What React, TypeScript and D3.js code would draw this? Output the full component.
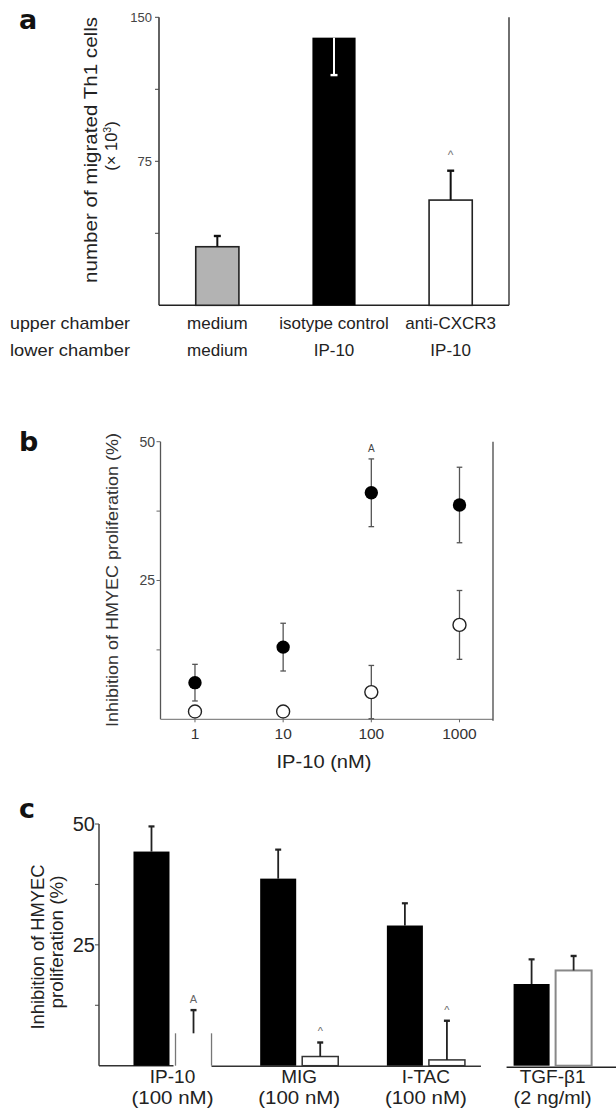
import React from 'react';
import * as d3 from 'd3';

const FONT = '"Liberation Sans", Arial, Helvetica, sans-serif';

// ---------- Panel a data ----------
const aUpper = ['medium', 'isotype control', 'anti-CXCR3'];
const aLower = ['medium', 'IP-10', 'IP-10'];
const aValues = [30.5, 139.4, 54.8];
const aErrors = [5.6, -19.5, 15.3];
const aFills = ['#b3b3b3', '#000000', '#ffffff'];
const aTicks = [37.5, 75, 112.5, 150];
const aTickLabels = ['', '75', '', '150'];
const aMarks = ['', '', '^'];

// ---------- Panel b data ----------
const bDoses = [1, 10, 100, 1000];
const bDoseLabels = ['1', '10', '100', '1000'];
const bFilled = [6.6, 13.0, 40.8, 38.6];
const bFilledErr = [3.3, 4.3, 6.1, 6.8];
const bOpen = [1.4, 1.4, 4.9, 17.0];
const bOpenErr = [0, 0, 4.8, 6.2];
const bMarks = ['', '', 'A', ''];
const bTicks = [12.5, 25, 37.5, 50];
const bTickLabels = ['', '25', '', '50'];

// ---------- Panel c data ----------
const cGroups = ['IP-10', 'MIG', 'I-TAC', 'TGF-β1'];
const cSub = ['(100 nM)', '(100 nM)', '(100 nM)', '(2 ng/ml)'];
const cBlack = [44.3, 38.7, 29.0, 16.9];
const cBlackErr = [5.2, 6.0, 4.6, 5.1];
const cOpen = [6.7, 1.9, 1.2, 19.7];
const cOpenErr = [4.8, 2.9, 8.1, 3.0];
const cMarks = ['A', '^', '^', ''];
const cTicks = [12.5, 25, 37.5, 50];
const cTickLabels = ['', '25', '', '50'];

export default function App() {
  // ----- scales a -----
  const yA = d3.scaleLinear().domain([0, 150]).range([305.3, 17.3]);
  const xA = d3.scaleBand().domain(aUpper).range([159, 509]).paddingInner(0.63).paddingOuter(0.315);
  const bwA = xA.bandwidth();

  // ----- scales b -----
  const yB = d3.scaleLinear().domain([0, 50]).range([719.3, 441.7]);
  const xB = d3.scaleLog().domain([Math.pow(10, -0.391), Math.pow(10, 3.38)]).range([160.5, 493]);

  // ----- scales c -----
  const yC = d3.scaleLinear().domain([0, 50]).range([1065.7, 824]);
  const xC = d3.scaleBand().domain(cGroups).range([109.15, 615.95]).paddingInner(0.384).paddingOuter(0.192);
  const xCi = d3.scaleBand().domain(['black', 'open']).range([0, xC.bandwidth()]).paddingInner(0.143);
  const bwC = xCi.bandwidth();

  const capA = 3.5;
  const capB = 2.8;
  const capC = 3;

  return (
    <svg width={616} height={1113} style={{ position: 'absolute', left: 0, top: 0, background: '#fff' }} fontFamily={FONT}>
      <rect x={0} y={0} width={616} height={1113} fill="#fff" />

      {/* ================= Panel a ================= */}
      <text x={19} y={29} fontSize={27} fontWeight="bold" fontFamily='"DejaVu Sans", sans-serif' fill="#111">a</text>

      {/* y label */}
      <text transform={`translate(97,150) rotate(-90)`} textAnchor="middle" fontSize={17.5} fill="#222"
        textLength={266} lengthAdjust="spacingAndGlyphs">number of migrated Th1 cells</text>
      <text transform={`translate(117,146) rotate(-90)`} textAnchor="middle" fontSize={16.5} fill="#222">
        (× 10<tspan dy={-6} fontSize={10.5}>3</tspan><tspan dy={6}>)</tspan>
      </text>

      {/* axes */}
      <line x1={159} x2={159} y1={yA(150)} y2={yA(0)} stroke="#222" strokeWidth={1.4} />
      <line x1={159} x2={509} y1={yA(0)} y2={yA(0)} stroke="#222" strokeWidth={1.6} />
      <line x1={509} x2={509} y1={yA(150)} y2={yA(0)} stroke="#333" strokeWidth={1.4} />
      {aTicks.map((t, i) => (
        <g key={'at' + i}>
          <line x1={155} x2={159} y1={yA(t)} y2={yA(t)} stroke="#444" strokeWidth={1} />
          {aTickLabels[i] && (
            <text x={152} y={yA(t)} dy="0.35em" textAnchor="end" fontSize={13} fill="#444">{aTickLabels[i]}</text>
          )}
        </g>
      ))}

      {/* bars */}
      {aUpper.map((c, i) => {
        const x = xA(c)!;
        const cx = x + bwA / 2;
        const v = aValues[i];
        const e = aErrors[i];
        const errCol = e < 0 ? '#fff' : '#111';
        return (
          <g key={'ab' + i}>
            <rect x={x} y={yA(v)} width={bwA} height={yA(0) - yA(v)} fill={aFills[i]}
              stroke={i === 1 ? 'none' : '#222'} strokeWidth={1.6} />
            <line x1={cx} x2={cx} y1={yA(v)} y2={yA(v + e)} stroke={errCol} strokeWidth={2} />
            <line x1={cx - capA} x2={cx + capA} y1={yA(v + e)} y2={yA(v + e)} stroke={errCol} strokeWidth={2.4} />
            {aMarks[i] && (
              <text x={cx} y={yA(v + e) - 12} textAnchor="middle" fontSize={12} fill="#777">{aMarks[i]}</text>
            )}
            <text x={cx} y={328.5} textAnchor="middle" fontSize={17} fill="#222">{c}</text>
            <text x={cx} y={356} textAnchor="middle" fontSize={17} fill="#222">{aLower[i]}</text>
          </g>
        );
      })}
      <text x={10} y={328.5} fontSize={17} fill="#222" textLength={120} lengthAdjust="spacingAndGlyphs">upper chamber</text>
      <text x={10} y={356} fontSize={17} fill="#222" textLength={120} lengthAdjust="spacingAndGlyphs">lower chamber</text>

      {/* ================= Panel b ================= */}
      <text x={19} y={451} fontSize={27} fontWeight="bold" fontFamily='"DejaVu Sans", sans-serif' fill="#111">b</text>

      <text transform={`translate(118,580) rotate(-90)`} textAnchor="middle" fontSize={17} fill="#333"
        textLength={294} lengthAdjust="spacingAndGlyphs">Inhibition of HMYEC proliferation (%)</text>

      <line x1={160.5} x2={160.5} y1={yB(50)} y2={yB(0)} stroke="#555" strokeWidth={1.3} />
      <line x1={160.5} x2={493} y1={yB(0)} y2={yB(0)} stroke="#888" strokeWidth={1.3} />
      <line x1={493} x2={493} y1={yB(50)} y2={yB(0) + 1.5} stroke="#555" strokeWidth={1.4} />
      {bTicks.map((t, i) => (
        <g key={'bt' + i}>
          <line x1={156.5} x2={160.5} y1={yB(t)} y2={yB(t)} stroke="#666" strokeWidth={1} />
          {bTickLabels[i] && (
            <text x={155} y={yB(t)} dy="0.35em" textAnchor="end" fontSize={14} fill="#444">{bTickLabels[i]}</text>
          )}
        </g>
      ))}
      {bDoses.map((d, i) => (
        <g key={'bx' + i}>
          <line x1={xB(d)} x2={xB(d)} y1={yB(0)} y2={yB(0) + 3} stroke="#666" strokeWidth={1} />
          <text x={xB(d)} y={739.3} textAnchor="middle" fontSize={15.5} fill="#333">{bDoseLabels[i]}</text>
        </g>
      ))}
      <text x={324} y={768} textAnchor="middle" fontSize={18} fill="#222" textLength={95} lengthAdjust="spacingAndGlyphs">IP-10 (nM)</text>

      {/* open circles */}
      {bDoses.map((d, i) => {
        const cx = xB(d);
        const v = bOpen[i];
        const e = bOpenErr[i];
        return (
          <g key={'bo' + i}>
            {e > 0 && (
              <g>
                <line x1={cx} x2={cx} y1={yB(Math.max(0, v - e))} y2={yB(v + e)} stroke="#555" strokeWidth={1.3} />
                <line x1={cx - capB} x2={cx + capB} y1={yB(v + e)} y2={yB(v + e)} stroke="#555" strokeWidth={1.3} />
                <line x1={cx - capB} x2={cx + capB} y1={yB(Math.max(0, v - e))} y2={yB(Math.max(0, v - e))} stroke="#555" strokeWidth={1.3} />
              </g>
            )}
            <circle cx={cx} cy={yB(v)} r={6.5} fill="#fff" stroke="#222" strokeWidth={1.4} />
          </g>
        );
      })}
      {/* filled circles */}
      {bDoses.map((d, i) => {
        const cx = xB(d);
        const v = bFilled[i];
        const e = bFilledErr[i];
        return (
          <g key={'bf' + i}>
            <line x1={cx} x2={cx} y1={yB(v - e)} y2={yB(v + e)} stroke="#555" strokeWidth={1.3} />
            <line x1={cx - capB} x2={cx + capB} y1={yB(v + e)} y2={yB(v + e)} stroke="#555" strokeWidth={1.3} />
            <line x1={cx - capB} x2={cx + capB} y1={yB(v - e)} y2={yB(v - e)} stroke="#555" strokeWidth={1.3} />
            <circle cx={cx} cy={yB(v)} r={6.7} fill="#000" />
            {bMarks[i] && (
              <text x={cx} y={yB(v + e) - 7} textAnchor="middle" fontSize={10} fill="#444">{bMarks[i]}</text>
            )}
          </g>
        );
      })}

      {/* ================= Panel c ================= */}
      <text x={19} y={818} fontSize={27} fontWeight="bold" fontFamily='"DejaVu Sans", sans-serif' fill="#111">c</text>

      <text transform={`translate(44,947) rotate(-90)`} textAnchor="middle" fontSize={18} fill="#222"
        textLength={165} lengthAdjust="spacingAndGlyphs">Inhibition of HMYEC</text>
      <text transform={`translate(63,942) rotate(-90)`} textAnchor="middle" fontSize={18} fill="#222"
        textLength={133} lengthAdjust="spacingAndGlyphs">proliferation (%)</text>

      <line x1={99} x2={99} y1={yC(50)} y2={yC(0)} stroke="#333" strokeWidth={1.4} />
      {cTicks.map((t, i) => (
        <g key={'ct' + i}>
          <line x1={95} x2={99} y1={yC(t)} y2={yC(t)} stroke="#444" strokeWidth={1} />
          {cTickLabels[i] && (
            <text x={95} y={yC(t)} dy="0.36em" textAnchor="end" fontSize={20} fill="#222">{cTickLabels[i]}</text>
          )}
        </g>
      ))}

      {/* baselines */}
      <line x1={99} x2={xC(cGroups[0])! + xCi('black')! + bwC + 4} y1={yC(0)} y2={yC(0)} stroke="#333" strokeWidth={1.5} />
      <line x1={xC(cGroups[0])! + xCi('open')! + bwC} x2={xC(cGroups[2])! + xCi('open')! + bwC + 16}
        y1={yC(0) + 0.5} y2={yC(0) + 0.5} stroke="#333" strokeWidth={1.5} />
      <line x1={xC(cGroups[3])! - 7} x2={616} y1={yC(0) + 1.5} y2={yC(0) + 1.5} stroke="#222" strokeWidth={1.6} />

      {cGroups.map((g, i) => {
        const gx = xC(g)!;
        const bx = gx + xCi('black')!;
        const ox = gx + xCi('open')!;
        const bcx = bx + bwC / 2;
        const ocx = ox + bwC / 2;
        const bv = cBlack[i];
        const be = cBlackErr[i];
        const ov = cOpen[i];
        const oe = cOpenErr[i];
        const gcx = gx + xC.bandwidth() / 2;
        return (
          <g key={'cg' + i}>
            {/* black bar */}
            <line x1={bcx} x2={bcx} y1={yC(bv)} y2={yC(bv + be)} stroke="#222" strokeWidth={1.8} />
            <line x1={bcx - capC} x2={bcx + capC} y1={yC(bv + be)} y2={yC(bv + be)} stroke="#222" strokeWidth={2.2} />
            <rect x={bx} y={yC(bv)} width={bwC} height={yC(0) - yC(bv)} fill="#000" />
            {/* open bar */}
            {i === 0 ? (
              <g>
                <line x1={ox} x2={ox} y1={yC(0)} y2={yC(ov)} stroke="#777" strokeWidth={1.3} />
                <line x1={ox + bwC} x2={ox + bwC} y1={yC(0)} y2={yC(ov)} stroke="#777" strokeWidth={1.3} />
              </g>
            ) : (
              <rect x={ox} y={yC(ov)} width={bwC} height={yC(0) - yC(ov)} fill="#fff"
                stroke={i === 3 ? '#888' : '#333'} strokeWidth={i === 3 ? 2 : 1.5} />
            )}
            <line x1={ocx} x2={ocx} y1={yC(ov)} y2={yC(ov + oe)} stroke="#222" strokeWidth={1.8} />
            <line x1={ocx - capC} x2={ocx + capC} y1={yC(ov + oe)} y2={yC(ov + oe)} stroke="#222" strokeWidth={2.4} />
            {cMarks[i] && (
              <text x={ocx} y={yC(ov + oe) - 7} textAnchor="middle" fontSize={11} fill="#666">{cMarks[i]}</text>
            )}
            {/* labels */}
            <text x={gcx} y={1083} textAnchor="middle" fontSize={19} fill="#222">{g}</text>
            <text x={gcx} y={1103.5} textAnchor="middle" fontSize={17.5} fill="#222"
              textLength={i === 3 ? 78 : 82} lengthAdjust="spacingAndGlyphs">{cSub[i]}</text>
          </g>
        );
      })}
    </svg>
  );
}
